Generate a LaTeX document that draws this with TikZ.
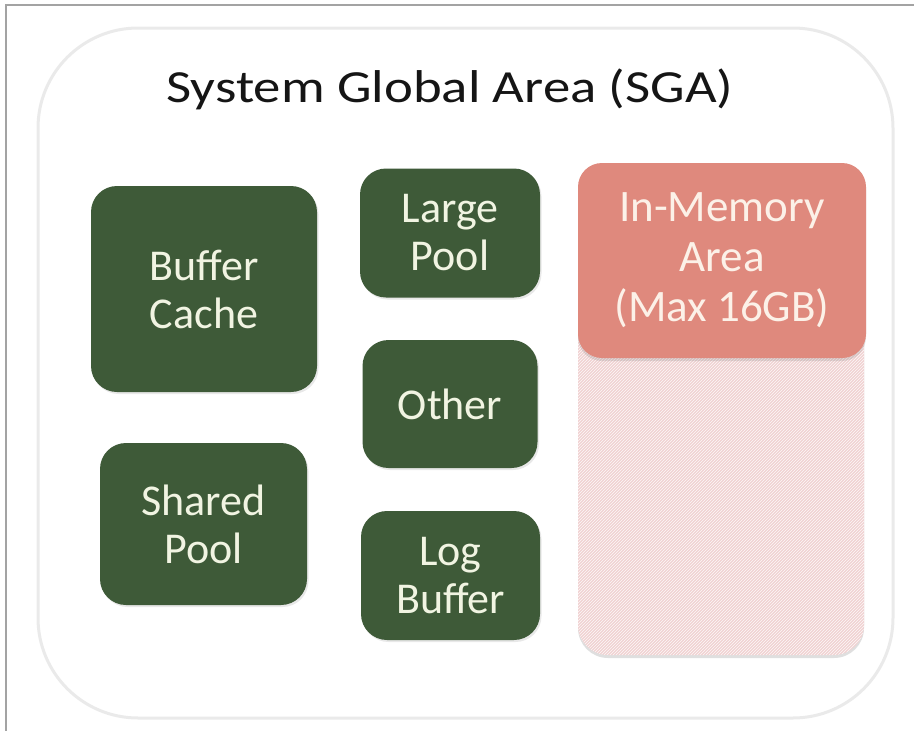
\documentclass[tikz,border=0pt]{standalone}
\usepackage{fontspec}
\setmainfont{Carlito}
\usepackage{graphicx}
\usetikzlibrary{positioning,shadows,patterns}
\definecolor{sgaInk}{HTML}{151515}
\definecolor{sgaEdge}{HTML}{EAEAEA}
\definecolor{sgaFrame}{HTML}{A3A3A3}
\definecolor{poolGreen}{HTML}{3E5A38}
\definecolor{poolText}{HTML}{F1F4E2}
\definecolor{imSalmon}{HTML}{DF897D}
\definecolor{imText}{HTML}{FCF1E8}
\definecolor{imPink}{HTML}{F1D2D2}
\tikzset{
  sgabox/.style={
    draw=sgaEdge, line width=3pt, rounded corners=100pt, fill=white
  },
  poolbox/.style={
    fill=poolGreen, rounded corners=26pt, text=poolText, align=center,
    font=\fontsize{44}{48}\selectfont, inner sep=0pt,
    drop shadow={shadow xshift=1.5pt, shadow yshift=-2pt, opacity=0.18}
  },
  imbodybox/.style={
    fill=imPink, rounded corners=30pt, inner sep=0pt,
    postaction={pattern=north east lines, pattern color=white!85!imPink},
    drop shadow={shadow xshift=0pt, shadow yshift=-3pt, opacity=0.25}
  },
  imheadbox/.style={
    fill=imSalmon, rounded corners=24pt, text=imText, align=center,
    font=\fontsize{45}{50}\selectfont, inner sep=0pt,
    drop shadow={shadow xshift=0pt, shadow yshift=-3pt, opacity=0.22}
  },
  titletext/.style={font=\fontsize{46}{50}\selectfont, text=sgaInk, inner sep=0pt},
}

\begin{document}
\begin{tikzpicture}[x=1pt,y=1pt]

% --- canvas -----------------------------------------------------------------
\useasboundingbox (0,0) rectangle (914,-731);
\draw[sgaFrame,line width=1.5pt] (6,-731) -- (6,-5) -- (914,-5);

% --- SGA outline ------------------------------------------------------------
\node[sgabox, minimum width=855pt, minimum height=690pt] (sga) at (465.5,-373) {};
\node[titletext, anchor=base] (title) at (450,-102)
  {\scalebox{1.19}[1]{System Global Area (SGA)}};

% --- left column ------------------------------------------------------------
\node[poolbox, minimum width=226pt, minimum height=206pt] (bufcache)
  at (204,-289) {Buffer\\Cache};
\node[poolbox, minimum width=207pt, minimum height=162pt] (sharedpool)
  at (203.5,-524) {Shared\\Pool};

% --- middle column ----------------------------------------------------------
\node[poolbox, minimum width=180pt, minimum height=129pt] (largepool)
  at (450,-233) {Large\\Pool};
\node[poolbox, minimum width=175pt, minimum height=128pt] (other)
  at (450,-404) {Other};
\node[poolbox, minimum width=179pt, minimum height=129pt] (logbuffer)
  at (450.5,-575.5) {Log\\Buffer};

% --- In-Memory column -------------------------------------------------------
\node[imbodybox, minimum width=286pt, minimum height=355pt] (imbody)
  at (721,-477.5) {};
\node[imheadbox, minimum width=288pt, minimum height=195pt] (imhead)
  at (722,-260.5) {In-Memory\\Area\\(Max 16GB)};

\end{tikzpicture}
\end{document}
